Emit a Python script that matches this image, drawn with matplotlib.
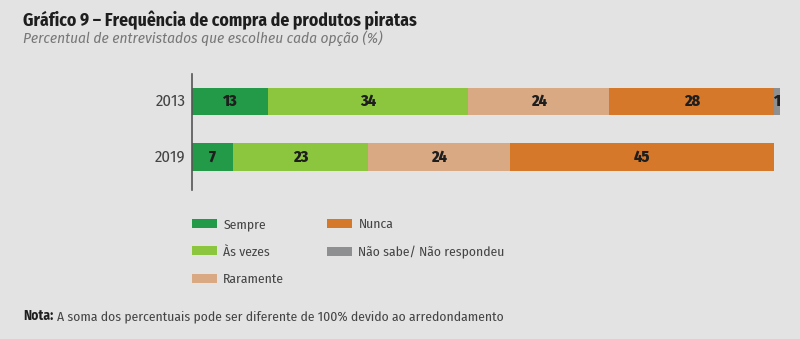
import matplotlib.pyplot as plt
from matplotlib.patches import Patch

years = ["2013", "2019"]
categories = ["Sempre", "Às vezes", "Raramente", "Nunca", "Não sabe/ Não respondeu"]
values = {
    "Sempre": [13, 7],
    "Às vezes": [34, 23],
    "Raramente": [24, 24],
    "Nunca": [28, 45],
    "Não sabe/ Não respondeu": [1, 0],
}
colors = ["#239a48", "#8cc63f", "#d9a983", "#d5782a", "#8e8f91"]

BG = "#e3e3e3"
plt.rcParams["font.family"] = ["Fira Sans Condensed", "Archivo Narrow", "DejaVu Sans"]

fig = plt.figure(figsize=(8, 3.39), dpi=100, facecolor=BG)
ax = fig.add_axes([0.24, 0.4395, 0.735, 0.342])
ax.set_facecolor(BG)

y = list(range(len(years)))
left = [0] * len(years)
for cat, col in zip(categories, colors):
    vals = values[cat]
    ax.barh(y, vals, left=left, height=0.49, color=col, edgecolor="none")
    for yi, (l, v) in enumerate(zip(left, vals)):
        if v > 0:
            cx = l + v / 2 if v > 2 else l + v - 0.5
            ax.text(cx, yi, str(v), ha="center", va="center",
                    fontsize=11.5, fontweight="heavy", color="#1e1e1e")
    left = [a + b for a, b in zip(left, vals)]

ax.set_xlim(0, 100)
ax.set_ylim(1.595, -0.495)
ax.set_yticks(y)
ax.set_yticklabels(years, fontsize=12, color="#444444", va="center")
ax.tick_params(axis="y", length=0, pad=4.5)
ax.set_xticks([])
for s in ["top", "right", "bottom"]:
    ax.spines[s].set_visible(False)
ax.spines["left"].set_color("#555555")
ax.spines["left"].set_linewidth(1.2)

handles = [Patch(facecolor=c, edgecolor="none") for c in colors]
fig.legend(handles, categories, ncol=2, loc="upper left",
           bbox_to_anchor=(0.2315, 0.376), frameon=False, fontsize=9.8,
           borderpad=0, handlelength=1.8, handleheight=0.6, handletextpad=0.5,
           columnspacing=3.15, labelspacing=1.1, labelcolor="#444444")

fig.text(0.029, 1 - 26 / 339, "Gráfico 9 – Frequência de compra de produtos piratas",
         fontsize=12.75, fontweight="bold", color="#1e1e1e", va="baseline")
fig.text(0.029, 1 - 42.7 / 339, "Percentual de entrevistados que escolheu cada opção (%)",
         fontsize=11, style="italic", color="#777777", va="baseline")
fig.text(0.029, 1 - 320 / 339, "Nota:", fontsize=9.8, fontweight="bold",
         color="#1e1e1e", va="baseline")
fig.text(0.071, 1 - 320 / 339,
         "A soma dos percentuais pode ser diferente de 100% devido ao arredondamento",
         fontsize=9.8, color="#444444", va="baseline")

fig.savefig("out.png", dpi=100, facecolor=BG)
